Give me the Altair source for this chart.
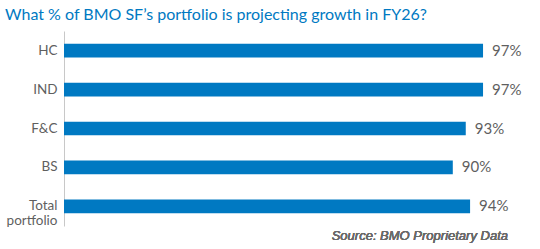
import altair as alt
import pandas as pd

categories = ["HC", "IND", "F&C", "BS", "Total portfolio"]
values = [97, 97, 93, 90, 94]
labels = ["97%", "97%", "93%", "90%", "94%"]

df = pd.DataFrame({"cat": categories, "val": values, "lab": labels})

FONT = "Lato"
BLUE = "#0079C2"
GRAY = "#5f5f5f"

y_enc = alt.Y(
    "cat:N",
    sort=categories,
    scale=alt.Scale(paddingInner=0.65, paddingOuter=0.33),
    axis=alt.Axis(
        title=None,
        ticks=False,
        grid=False,
        domainColor="#c8c8c8",
        domainWidth=1,
        labelFont=FONT,
        labelFontSize=13.5,
        labelColor=GRAY,
        labelPadding=7,
        labelLineHeight=15,
        labelExpr="datum.value == 'Total portfolio' ? ['Total', 'portfolio'] : datum.value",
    ),
)
x_enc = alt.X("val:Q", scale=alt.Scale(domain=[0, 100]), axis=None)

bars = alt.Chart(df).mark_bar(color=BLUE).encode(x=x_enc, y=y_enc)
text = alt.Chart(df).mark_text(
    align="left", dx=9, font=FONT, fontSize=15, color=GRAY, baseline="middle"
).encode(x=x_enc, y=alt.Y("cat:N", sort=categories), text="lab:N")
source = alt.Chart(df).mark_text(
    align="right", font="Liberation Sans", fontSize=13, fontStyle="italic", fontWeight=300,
    color="#6a6a6a", baseline="alphabetic"
).encode(x=alt.value(444), y=alt.value(209), text=alt.value("Source: BMO Proprietary Data"))

chart = (
    alt.layer(bars, text, source)
    .properties(
        width=432,
        height=195,
        autosize=alt.AutoSizeParams(type="none"),
        padding={"left": 64, "top": 31, "right": 44, "bottom": 23},
        title=alt.TitleParams(
            "What % of BMO SF’s portfolio is projecting growth in FY26?",
            anchor="start",
            frame="group",
            font=FONT,
            fontSize=16,
            fontWeight="normal",
            color=BLUE,
            dx=-59,
            offset=8,
        ),
    )
    .configure_view(stroke=None)
)

chart.save("out.html", embed_options={"renderer": "svg", "actions": False})
